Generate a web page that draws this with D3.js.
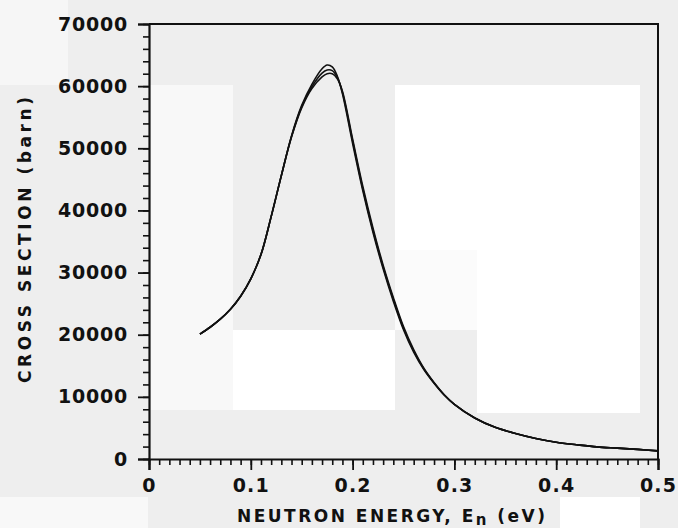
<!DOCTYPE html>
<html>
<head>
<meta charset="utf-8">
<script src="https://cdn.jsdelivr.net/npm/d3@7/dist/d3.min.js"></script>
<style>
  html, body { margin: 0; padding: 0; background: #eeeeee; }
  svg { display: block; }
  text { font-family: "DejaVu Sans", sans-serif; font-weight: bold; fill: #111; }
</style>
</head>
<body>
<svg id="chart" width="678" height="528"></svg>
<script>
// ---- data ----
const energy = [0.05,0.06,0.07,0.08,0.09,0.10,0.11,0.12,0.13,0.14,0.15,0.16,0.17,0.175,0.18,0.185,0.19,
                0.20,0.21,0.22,0.23,0.24,0.25,0.26,0.27,0.28,0.29,0.30,
                0.32,0.34,0.36,0.38,0.40,0.42,0.44,0.46,0.48,0.50];
const seriesA = [20100,21200,22500,24100,26200,29000,32900,39000,45600,52000,56900,60300,62800,63400,63100,61600,58800,
                 50800,43200,36500,30600,25400,20800,17200,14400,12200,10300,8800,
                 6600,5100,4100,3300,2700,2300,1950,1750,1550,1300];
const seriesB = [20100,21200,22500,24100,26200,29000,32900,39000,45600,51800,56500,59600,61500,62000,62000,61200,59200,
                 51500,43900,37200,31200,26000,21300,17600,14600,12300,10350,8800,
                 6600,5100,4100,3300,2700,2300,1950,1750,1550,1300];
const seriesC = [20100,21200,22500,24100,26200,29000,32900,39000,45600,51900,56700,59900,62100,62600,62500,61400,59000,
                 51200,43500,36800,30900,25700,21050,17400,14500,12250,10300,8800,
                 6600,5100,4100,3300,2700,2300,1950,1750,1550,1300];
const xTicks = [0,0.1,0.2,0.3,0.4,0.5];
const yTicks = [0,10000,20000,30000,40000,50000,60000,70000];
const xTitle = ["NEUTRON ENERGY, E", "n", " (eV)"];
const yTitle = "CROSS SECTION (barn)";

// ---- layout ----
const svg = d3.select("#chart");
const L = 149, R = 658, T = 24, B = 459;
const x = d3.scaleLinear().domain([0, 0.5]).range([L, R]);
const y = d3.scaleLinear().domain([0, 70000]).range([B, T]);

// background patches (scan shading)
const patches = [
  [0,0,68,85,"#f6f6f6"],
  [148,85,85,325,"#f8f8f8"],
  [395,85,245,165,"#ffffff"],
  [395,250,82,80,"#fbfbfb"],
  [477,250,163,163,"#ffffff"],
  [233,330,162,80,"#ffffff"],
  [0,497,148,31,"#f8f8f8"],
  [560,497,80,31,"#ffffff"]
];
svg.selectAll("rect.bg").data(patches).join("rect")
  .attr("class","bg")
  .attr("x", d=>d[0]).attr("y", d=>d[1]).attr("width", d=>d[2]).attr("height", d=>d[3])
  .attr("fill", d=>d[4]);

// frame (top and right)
svg.append("path")
  .attr("d", `M${x(0)},${y(70000)}H${x(0.5)}V${y(0)}`)
  .attr("fill","none").attr("stroke","#111").attr("stroke-width",2);

// minor ticks
const yMinor = d3.range(0, 70001, 2000);
const xMinor = d3.range(0, 0.5001, 0.01);
svg.append("g").attr("transform",`translate(${L},0)`)
  .call(d3.axisLeft(y).tickValues(yMinor).tickSize(6).tickFormat(""))
  .call(g=>g.select(".domain").remove())
  .selectAll("line").attr("stroke","#111").attr("stroke-width",1.6);
svg.append("g").attr("transform",`translate(0,${B})`)
  .call(d3.axisBottom(x).tickValues(xMinor).tickSize(6).tickFormat(""))
  .call(g=>g.select(".domain").remove())
  .selectAll("line").attr("stroke","#111").attr("stroke-width",1.6);

// major axes
const gy = svg.append("g").attr("transform",`translate(${L},0)`)
  .call(d3.axisLeft(y).tickValues(yTicks).tickSize(11).tickPadding(10).tickFormat(d3.format("d")));
const gx = svg.append("g").attr("transform",`translate(0,${B})`)
  .call(d3.axisBottom(x).tickValues(xTicks).tickSize(11).tickPadding(9)
        .tickFormat(d => d === 0 ? "0" : d3.format(".1f")(d)));
[gy, gx].forEach(g => {
  g.select(".domain").attr("stroke","#111").attr("stroke-width",2.2);
  g.selectAll(".tick line").attr("stroke","#111").attr("stroke-width",1.8);
  g.selectAll(".tick text").style("font-family","'DejaVu Sans', sans-serif")
    .style("font-weight","bold").style("font-size","19px").attr("fill","#111");
});
gy.selectAll(".tick text").style("letter-spacing","0.8px");
gx.selectAll(".tick text").style("letter-spacing","1.2px");

// curves
const line = d3.line().x((d,i)=>x(energy[i])).y(d=>y(d)).curve(d3.curveCatmullRom.alpha(0.5));
svg.selectAll("path.curve").data([seriesA, seriesB, seriesC]).join("path")
  .attr("class","curve")
  .attr("d", line)
  .attr("fill","none").attr("stroke","#111").attr("stroke-width",1.6);

// axis titles
const xt = svg.append("text").attr("x", 237).attr("y", 522)
  .attr("textLength", 308).attr("lengthAdjust","spacing")
  .style("font-size","17px");
xt.append("tspan").text(xTitle[0]);
xt.append("tspan").attr("dy", 3).style("font-size","15px").text(xTitle[1]);
xt.append("tspan").attr("dy", -3).text(xTitle[2]);

svg.append("text")
  .attr("transform", `translate(31,240) rotate(-90)`)
  .attr("text-anchor","middle")
  .attr("textLength", 286).attr("lengthAdjust","spacing")
  .style("font-size","17px")
  .text(yTitle);
</script>
</body>
</html>
